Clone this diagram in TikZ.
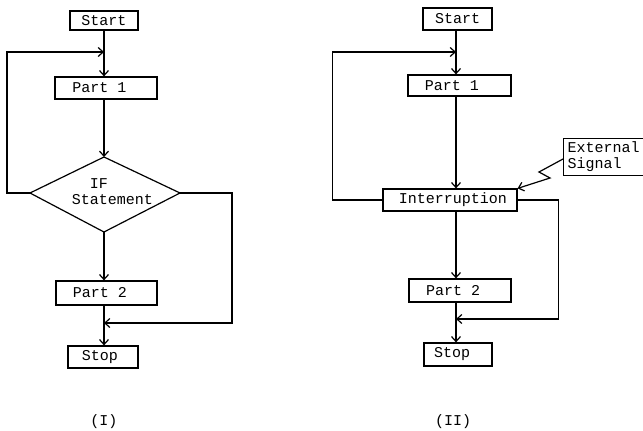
\documentclass[tikz,border=0pt]{standalone}
\usepackage{fontspec}
\setmonofont{Liberation Mono}
\usetikzlibrary{arrows.meta}
\newcommand\flowfont{\ttfamily\fontsize{15}{16}\selectfont}
\tikzset{
  box/.style={draw, line width=1.2pt, inner sep=0pt, font=\flowfont},
  conn/.style={line width=1.2pt},
  arr/.style={line width=1.2pt, -{Straight Barb[length=5pt,width=9pt,line width=1.2pt]}},
  txt/.style={font=\flowfont, inner sep=0pt}
}
\begin{document}
\begin{tikzpicture}[x=1pt,y=-1pt]
\clip (0,0) rectangle (643,431);
\fill[white] (0,0) rectangle (643,431);
% ---------------- Diagram I ----------------
\node[box, minimum width=68pt, minimum height=19pt] (s1) at (104,20.5) {Start};
\node[box, minimum width=102pt, minimum height=22pt] (p1) at (106,88) {Part 1\hspace*{13pt}};
\coordinate (d1t) at (104,157);
\coordinate (d1b) at (104,232);
\coordinate (d1l) at (30,193);
\coordinate (d1r) at (180,193);
\draw[conn, line join=miter] (d1t) -- (d1r) -- (d1b) -- (d1l) -- cycle;
\node[txt, align=left] (d1) at (112.5,192) {\phantom{St}IF\\Statement};
\node[box, minimum width=101pt, minimum height=24pt] (p2) at (106.5,293) {Part 2\hspace*{13pt}};
\node[box, minimum width=70pt, minimum height=22pt] (t1) at (103,357) {Stop\hspace*{6pt}};
\coordinate (m1) at (104,52);
\coordinate (r1) at (104,323);
\draw[arr] (s1.south) -- (s1.south |- p1.north);
\draw[arr] (p1.south -| d1t) -- (d1t);
\draw[arr] (d1b) -- (d1b |- p2.north);
\draw[arr] (p2.south -| d1b) -- (d1b |- t1.north);
\draw[arr] (d1l) -- ++(-23,0) |- (m1);
\draw[arr] (d1r) -- ++(52,0) |- (r1);
\node[txt] (lab1) at (104,422) {(I)};
% ---------------- Diagram II ----------------
\coordinate (x2) at (456,0);
\node[box, minimum width=69pt, minimum height=22pt] (s2) at (457.5,19) {Start};
\node[box, minimum width=103pt, minimum height=21pt] (q1) at (459.5,85.5) {Part 1\hspace*{15pt}};
\node[box, minimum width=134pt, minimum height=22pt] (i2) at (450,200) {\hspace*{6pt}Interruption};
\node[box, minimum width=102pt, minimum height=23pt] (q2) at (460,290.5) {Part 2\hspace*{14pt}};
\node[box, minimum width=68pt, minimum height=23pt] (t2) at (458,354.5) {Stop\hspace*{12pt}};
\node[box, anchor=north west, minimum height=37pt, text width=90pt, align=left, inner xsep=4pt] (ext) at (563,138) {External\\Signal};
\coordinate (m2) at (456,52);
\coordinate (r2) at (456,319);
\draw[arr] (s2.south -| x2) -- (q1.north -| x2);
\draw[arr] (q1.south -| x2) -- (i2.north -| x2);
\draw[arr] (i2.south -| x2) -- (q2.north -| x2);
\draw[arr] (q2.south -| x2) -- (t2.north -| x2);
\draw[arr] (i2.west) -- ++(-50,0) |- (m2);
\draw[arr] (i2.east) -- ++(41,0) |- (r2);
\coordinate (z0) at (563,159);
\coordinate (z1) at (539,172);
\coordinate (z2) at (550,178);
\draw[arr, line join=miter] (z0) -- (z1) -- (z2) -- (i2.north east);
\node[txt] (lab2) at (453,422) {(II)};
\end{tikzpicture}
\end{document}
